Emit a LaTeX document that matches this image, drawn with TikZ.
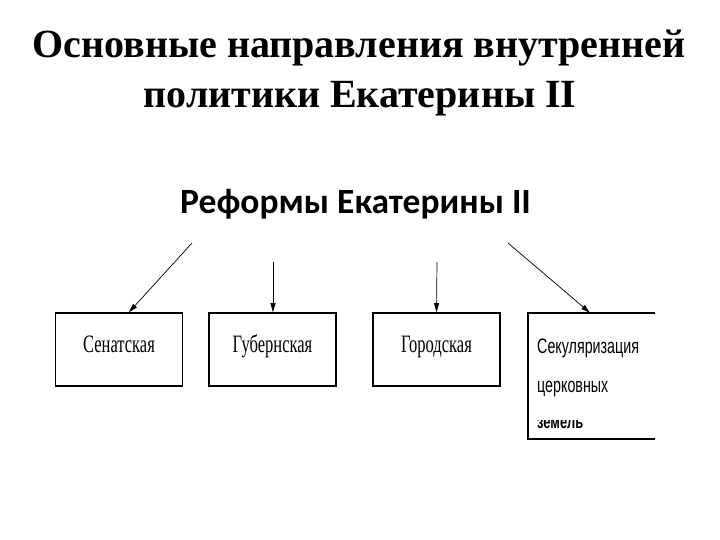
\documentclass[tikz,border=0pt]{standalone}
\usepackage{fontspec}
\setmainfont{Liberation Serif}
\newfontfamily\subfont{Carlito}
\newfontfamily\boxfont[FakeStretch=0.66]{Liberation Serif}
\newfontfamily\narrowfont[FakeStretch=0.68]{Liberation Sans}
\usetikzlibrary{arrows.meta,calc,positioning}

\begin{document}
\begin{tikzpicture}[x=1pt,y=-1pt,
    reform/.style={draw,line width=1.6pt,minimum width=127pt,minimum height=73pt,
      inner sep=0pt,text height=19pt,text depth=13pt,font=\boxfont\fontsize{25}{25}\selectfont},
    tip/.style={-{Triangle[length=9pt,width=5pt]},line width=0.7pt}]
    \useasboundingbox (0,0) rectangle (720,540);
    % title
    \node[anchor=base,font=\bfseries\fontsize{40}{40}\selectfont] (title1) at (359,58)
      {Основные направления внутренней};
    \node[anchor=base,font=\bfseries\fontsize{40}{40}\selectfont] (title2) at (360,108)
      {политики Екатерины II};
    \node[anchor=base,font=\subfont\bfseries\fontsize{35.5}{36}\selectfont] (sub) at (355.5,214)
      {Реформы Екатерины II};
    % boxes
    \node[reform] (senate) at (119,349.5) {Сенатская};
    \node[reform] (gub) at (272.5,349.5) {Губернская};
    \node[reform] (city) at (436.5,349.5) {Городская};
    \node[minimum width=127pt,minimum height=126pt,inner sep=0pt] (church) at (591.5,376) {};
    \draw[line width=1.6pt] (church.north east) -- (church.north west)
      -- (church.south west) -- (church.south east);
    \node[anchor=base west,inner sep=0pt,font=\narrowfont\fontsize{21}{21}\selectfont]
      (churchA) at (537,353) {Секуляризация};
    \node[anchor=base west,inner sep=0pt,font=\narrowfont\fontsize{21}{21}\selectfont]
      (churchB) at (537,392) {церковных};
    \begin{scope}
      \clip (530,420.5) rectangle (652,437);
      \node[anchor=base west,inner sep=0pt,font=\narrowfont\bfseries\fontsize{19}{19}\selectfont]
        (churchC) at (537,428.5) {земель};
    \end{scope}
    % arrows
    \coordinate (s1) at (192,243);
    \coordinate (s2) at (273,262);
    \coordinate (s3) at (437,262);
    \coordinate (s4) at (508,243);
    \draw[tip] (s1) -- (senate.north -| 129,0);
    \draw[tip] (s2) -- (gub.north -| 273,0);
    \draw[tip] (s3) -- (city.north);
    \draw[tip] (s4) -- (church.north -| 590,0);
\end{tikzpicture}
\end{document}
